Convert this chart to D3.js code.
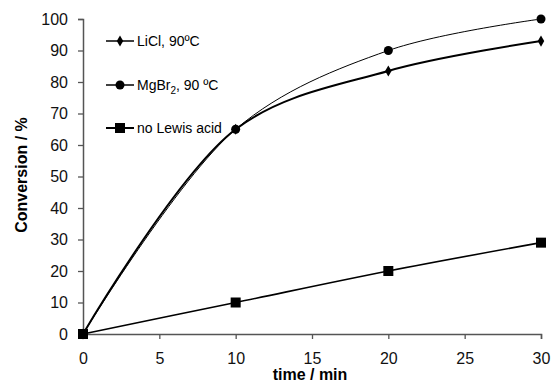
<!DOCTYPE html>
<html lang="en">
<head>
    <meta charset="UTF-8">
    <title>Conversion vs time</title>
    <script src="https://d3js.org/d3.v7.min.js"></script>
    <style>
        body { margin: 0; background: #fff; }
        svg { font-family: "Liberation Sans", Arial, sans-serif; }
    </style>
</head>
<body>
    <svg id="chart"></svg>

    <script>
        var times = [0, 10, 20, 30];
        var licl = [0, 65, 83.5, 93];
        var mgbr2 = [0, 65, 90, 100];
        var noLewis = [0, 10, 20, 29];
        var xTicks = [0, 5, 10, 15, 20, 25, 30];
        var yTicks = [0, 10, 20, 30, 40, 50, 60, 70, 80, 90, 100];

        const width = 553, height = 382;
        const svg = d3.select("#chart")
            .attr("width", width)
            .attr("height", height);

        const x = d3.scaleLinear().domain([0, 30]).range([83, 541]);
        const y = d3.scaleLinear().domain([0, 100]).range([334, 19]);

        // axes
        const xAxis = svg.append("g")
            .attr("transform", "translate(0," + y(0) + ")")
            .call(d3.axisBottom(x).tickValues(xTicks).tickSize(5).tickPadding(14));
        const yAxis = svg.append("g")
            .attr("transform", "translate(" + x(0) + ",0)")
            .call(d3.axisLeft(y).tickValues(yTicks).tickSize(5).tickPadding(10));
        [xAxis, yAxis].forEach(a => {
            a.select(".domain").attr("stroke", "#555").attr("stroke-width", 1.5);
            a.selectAll(".tick line").attr("stroke", "#555").attr("stroke-width", 1.3);
            a.selectAll("text").style("font-size", "16px").attr("fill", "#111");
        });

        svg.append("text")
            .attr("x", 310).attr("y", 380)
            .attr("text-anchor", "middle")
            .style("font-size", "16px").style("font-weight", "bold")
            .text("time / min");
        svg.append("text")
            .attr("transform", "translate(27,175) rotate(-90)")
            .attr("text-anchor", "middle")
            .style("font-size", "16px").style("font-weight", "bold")
            .text("Conversion / %");

        const series = [
            { name: "LiCl", vals: licl, marker: "diamond", lw: 2 },
            { name: "MgBr2", vals: mgbr2, marker: "circle", lw: 1 },
            { name: "none", vals: noLewis, marker: "square", lw: 1.6 }
        ];

        const line = d3.line()
            .x(d => x(d[0]))
            .y(d => y(d[1]))
            .curve(d3.curveCatmullRom.alpha(0.5));

        function drawMarker(g, type, cx, cy) {
            if (type === "diamond") {
                g.append("path")
                    .attr("d", d3.symbol(d3.symbolDiamond, 36)())
                    .attr("transform", "translate(" + cx + "," + cy + ")")
                    .attr("fill", "#000");
            } else if (type === "circle") {
                g.append("circle").attr("cx", cx).attr("cy", cy).attr("r", 4.5).attr("fill", "#000");
            } else {
                g.append("rect").attr("x", cx - 5).attr("y", cy - 5)
                    .attr("width", 10).attr("height", 10).attr("fill", "#000");
            }
        }

        series.forEach(s => {
            const pts = times.map((t, i) => [t, s.vals[i]]);
            svg.append("path")
                .datum(pts)
                .attr("d", line)
                .attr("fill", "none")
                .attr("stroke", "#000")
                .attr("stroke-width", s.lw);
            const g = svg.append("g");
            pts.forEach(p => drawMarker(g, s.marker, x(p[0]), y(p[1])));
        });

        // legend
        const legendRows = [
            { marker: "diamond", lw: 1.5, y: 41, label: ["LiCl, 90ºC"] },
            { marker: "circle", lw: 1.5, y: 85, label: ["MgBr", "2", ", 90 ºC"] },
            { marker: "square", lw: 2, y: 128, label: ["no Lewis acid"] }
        ];
        const lg = svg.append("g");
        legendRows.forEach(r => {
            lg.append("line").attr("x1", 106).attr("x2", 134)
                .attr("y1", r.y).attr("y2", r.y)
                .attr("stroke", "#000").attr("stroke-width", r.lw);
            drawMarker(lg, r.marker, 120, r.y);
            const t = lg.append("text").attr("x", 137).attr("y", r.y + 5)
                .style("font-size", "14px");
            t.append("tspan").text(r.label[0]);
            if (r.label.length > 1) {
                t.append("tspan").attr("dy", 4).style("font-size", "10px").text(r.label[1]);
                t.append("tspan").attr("dy", -4).text(r.label[2]);
            }
        });
    </script>
</body>
</html>
